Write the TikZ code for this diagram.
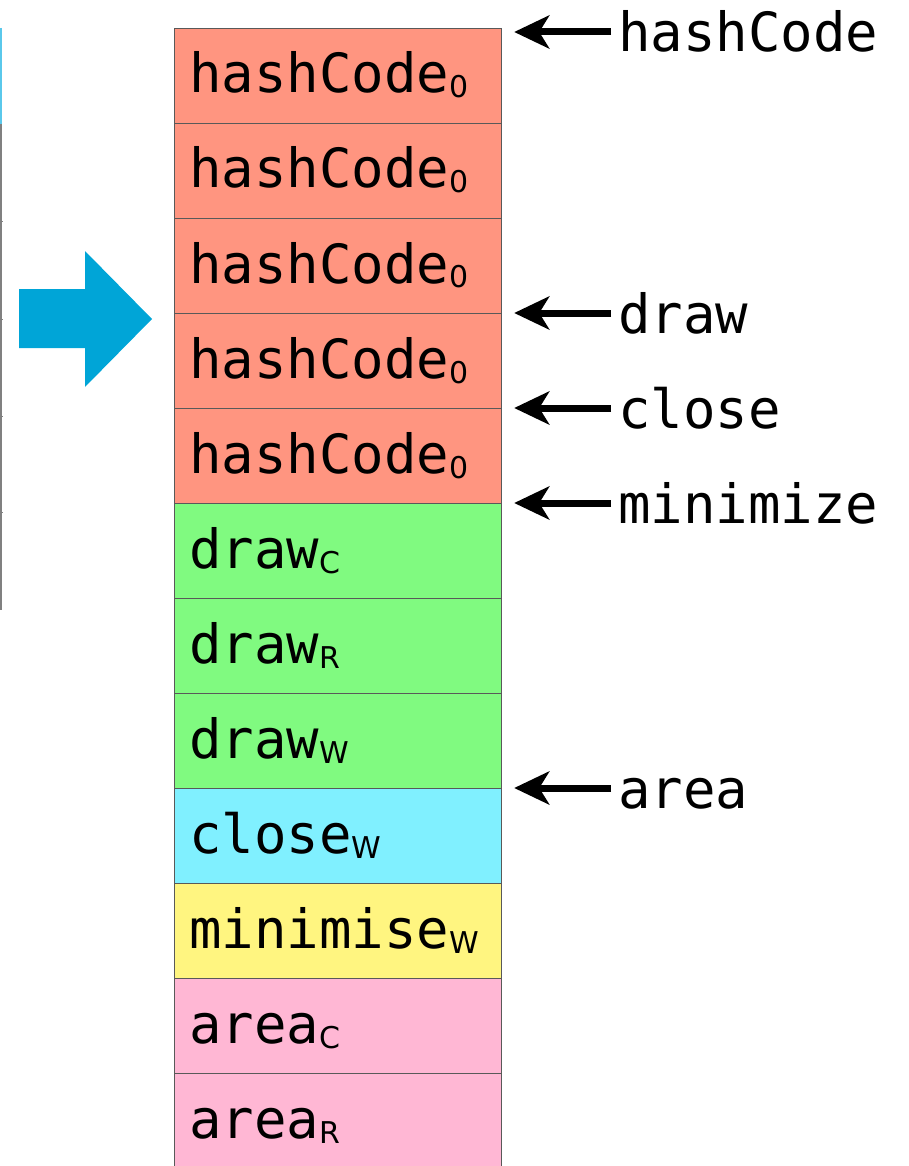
\documentclass[tikz,border=0pt]{standalone}
\usepackage{fontspec}
\setmonofont{DejaVu Sans Mono}
\newfontfamily\subfont{DejaVu Sans}
\usetikzlibrary{arrows.meta,calc}
\definecolor{hashcol}{RGB}{255,149,128}
\definecolor{drawcol}{RGB}{128,250,128}
\definecolor{closecol}{RGB}{128,240,255}
\definecolor{mincol}{RGB}{255,245,128}
\definecolor{areacol}{RGB}{255,183,212}
\definecolor{bigarrow}{RGB}{0,165,215}
\definecolor{oldtab}{RGB}{90,200,235}
\newcommand{\idx}[1]{\raisebox{-5pt}{\subfont\fontsize{30}{30}\selectfont #1}}

\tikzset{
  cell/.style={draw=black!65, line width=1.2pt, minimum width=327pt, minimum height=95pt, inner sep=0pt, anchor=north west},
  celltext/.style={font=\ttfamily\fontsize{54}{60}\selectfont, inner sep=0pt, anchor=base west},
  lbl/.style={font=\ttfamily\fontsize{54}{60}\selectfont, text height=40pt, text depth=0pt, inner xsep=7pt, inner ysep=0pt, anchor=west},
  ptr/.style={line width=7pt, -{Stealth[length=35pt,width=33pt,inset=10pt]}, shorten >=12pt}
}

\begin{document}
\begin{tikzpicture}[x=1pt,y=-1pt]
    \useasboundingbox (0,0) rectangle (908,1166);

    % Edge of the old table
    \draw[oldtab, line width=2pt] (1,28) -- (1,124);
    \draw[black!50, line width=2pt] (1,124) -- (1,610);
    \foreach \ty in {222,319,416,512}
        \draw[black!50, line width=1pt] (0,\ty) -- (3,\ty);

    % Big arrow
    \fill[bigarrow] (19,289) -- (85,289) -- (85,251) -- (152,319)
        -- (85,387) -- (85,348) -- (19,348) -- cycle;

    % Table
    \foreach \fillc/\txt [count=\i] in {
        hashcol/hashCode\idx{0}, hashcol/hashCode\idx{0}, hashcol/hashCode\idx{0},
        hashcol/hashCode\idx{0}, hashcol/hashCode\idx{0},
        drawcol/draw\idx{C}, drawcol/draw\idx{R}, drawcol/draw\idx{W},
        closecol/close\idx{W}, mincol/minimise\idx{W},
        areacol/area\idx{C}, areacol/area\idx{R}} {
        \node[cell, fill=\fillc] (c\i) at (174,{28+95*(\i-1)}) {};
        \node[celltext] (t\i) at ($(c\i.north west)+(15,65)$) {\txt};
    }

    % Pointers
    \node[lbl] (lhash) at ([xshift=109pt,yshift=-4pt]c1.north east) {hashCode};
    \node[lbl] (ldraw) at ([xshift=109pt]c4.north east) {draw};
    \node[lbl] (lclose) at ([xshift=109pt]c5.north east) {close};
    \node[lbl] (lmin) at ([xshift=109pt]c6.north east) {minimize};
    \node[lbl] (larea) at ([xshift=109pt]c9.north east) {area};

    \draw[ptr] (lhash.west) -- (lhash.west -| c1.east);
    \draw[ptr] (ldraw.west) -- (ldraw.west -| c4.east);
    \draw[ptr] (lclose.west) -- (lclose.west -| c5.east);
    \draw[ptr] (lmin.west) -- (lmin.west -| c6.east);
    \draw[ptr] (larea.west) -- (larea.west -| c9.east);

\end{tikzpicture}
\end{document}
